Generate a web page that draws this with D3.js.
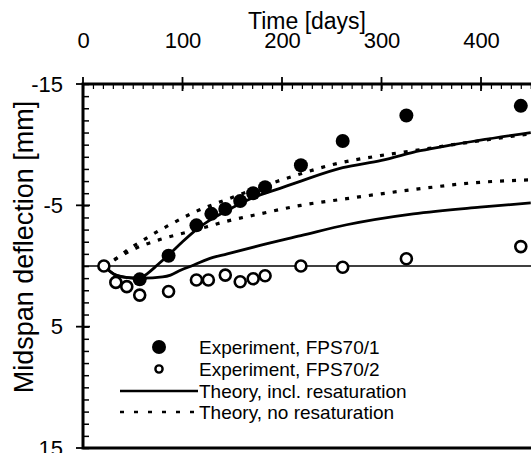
<!DOCTYPE html>
<html>
<head>
<meta charset="utf-8">
<script src="https://cdn.jsdelivr.net/npm/d3@7"></script>
<style>
  body { margin: 0; background: #fff; }
  svg { display: block; font-family: 'Liberation Sans', Arial, Helvetica, sans-serif; }
</style>
</head>
<body>
<div id="chart"></div>
<script>
// experiment, FPS70/1 (filled)
var expDays1 = [57, 86, 114, 129, 143, 158, 171, 183, 219, 261, 325, 440]
var expDefl1 = [1.1, -0.85, -3.35, -4.3, -4.7, -5.35, -6.0, -6.5, -8.3, -10.3, -12.4, -13.2]

// experiment, FPS70/2 (open)
var expDays2 = [21, 33, 44, 57, 86, 114, 126, 143, 158, 171, 183, 219, 261, 325, 440]
var expDefl2 = [0, 1.35, 1.7, 2.4, 2.1, 1.15, 1.15, 0.75, 1.3, 1.05, 0.8, 0, 0.1, -0.6, -1.6]

// theory incl. resaturation
var resDays1 = [21, 33, 45, 57, 65, 75, 86, 100, 114, 130, 150, 170, 198, 219, 261, 300, 339, 372, 450]
var resDefl1 = [0, 0.75, 0.95, 1.0, 0.6, -0.1, -0.9, -2.0, -3.0, -3.9, -4.8, -5.6, -6.4, -7.0, -8.1, -8.7, -9.5, -10.0, -11.0]
var resDays2 = [21, 33, 45, 60, 80, 88, 98, 112, 125, 145, 178, 219, 265, 332, 399, 450]
var resDefl2 = [0, 0.75, 0.95, 1.0, 0.9, 0.75, 0.35, -0.1, -0.55, -1.0, -1.7, -2.5, -3.4, -4.3, -4.85, -5.2]

// theory, no resaturation
var noResDays1 = [21, 30, 46, 58, 72, 85, 111, 145, 178, 219, 248, 299, 332, 372, 450]
var noResDefl1 = [0, -0.4, -1.4, -2.0, -2.7, -3.3, -4.4, -5.5, -6.5, -7.6, -8.3, -9.1, -9.5, -10.0, -10.9]
var noResDays2 = [21, 35, 54, 78, 110, 145, 178, 219, 265, 332, 399, 450]
var noResDefl2 = [0, -0.7, -1.5, -2.2, -2.9, -3.7, -4.3, -5.0, -5.55, -6.3, -6.9, -7.1]

var xMajor = [0, 100, 200, 300, 400]
var yMajor = [-15, -5, 5, 15]

var legendLabels = ['Experiment, FPS70/1', 'Experiment, FPS70/2', 'Theory, incl. resaturation', 'Theory, no resaturation']

var W = 531
var H = 453

var svg = d3.select('#chart').append('svg')
  .attr('width', W)
  .attr('height', H)

var x = d3.scaleLinear().domain([0, 450]).range([83, 530.75])
var y = d3.scaleLinear().domain([-15, 15]).range([84, 448])

function zip (a, b) {
  return a.map(function (d, i) { return [d, b[i]] })
}

// plain hyphen, not the unicode minus
function plain (d) { return String(d) }

// zero line
svg.append('line')
  .attr('x1', x(0)).attr('x2', W)
  .attr('y1', y(0)).attr('y2', y(0))
  .attr('stroke', '#000')
  .attr('stroke-width', 1.5)

// minor ticks, top (inside)
svg.append('g')
  .attr('transform', 'translate(0,' + y(-15) + ')')
  .call(d3.axisTop(x).tickValues(d3.range(0, 451, 10)).tickSize(-5).tickFormat(''))
  .call(function (g) { g.select('.domain').remove() })
  .selectAll('line').attr('stroke-width', 1.2)

// minor ticks, left (inside)
svg.append('g')
  .attr('transform', 'translate(' + x(0) + ',0)')
  .call(d3.axisLeft(y).tickValues(d3.range(-15, 16, 1)).tickSize(-6).tickFormat(''))
  .call(function (g) { g.select('.domain').remove() })
  .selectAll('line').attr('stroke-width', 1.5)

// major ticks cross the axis
svg.append('g').selectAll('line')
  .data(xMajor)
  .enter().append('line')
  .attr('x1', function (d) { return x(d) })
  .attr('x2', function (d) { return x(d) })
  .attr('y1', y(-15) - 7)
  .attr('y2', y(-15) + 7)
  .attr('stroke', '#000')
  .attr('stroke-width', 1.8)

svg.append('g').selectAll('line')
  .data(yMajor)
  .enter().append('line')
  .attr('x1', x(0) - 7)
  .attr('x2', x(0) + 7)
  .attr('y1', function (d) { return y(d) })
  .attr('y2', function (d) { return y(d) })
  .attr('stroke', '#000')
  .attr('stroke-width', 1.8)

// tick labels
svg.append('g')
  .attr('transform', 'translate(0,48)')
  .call(d3.axisTop(x).tickValues(xMajor).tickSize(0).tickPadding(0).tickFormat(plain))
  .call(function (g) { g.select('.domain').remove() })
  .selectAll('text')
  .attr('font-size', 22)
  .attr('font-family', null)
  .attr('fill', '#000')
  .attr('dy', 0)

svg.append('g')
  .attr('transform', 'translate(63,0)')
  .call(d3.axisLeft(y).tickValues(yMajor).tickSize(0).tickPadding(0).tickFormat(plain))
  .call(function (g) { g.select('.domain').remove() })
  .selectAll('text')
  .attr('font-size', 22)
  .attr('font-family', null)
  .attr('fill', '#000')

// frame
svg.append('path')
  .attr('d', 'M' + W + ',' + y(-15) + 'H' + x(0) + 'V' + y(15) + 'H' + W)
  .attr('fill', 'none')
  .attr('stroke', '#000')
  .attr('stroke-width', 3)

// titles
svg.append('text')
  .attr('x', 307)
  .attr('y', 29)
  .attr('text-anchor', 'middle')
  .attr('font-size', 23)
  .text('Time [days]')

svg.append('text')
  .attr('transform', 'translate(33,247) rotate(-90)')
  .attr('text-anchor', 'middle')
  .attr('font-size', 27)
  .text('Midspan deflection [mm]')

// theory curves
var line = d3.line()
  .x(function (d) { return x(d[0]) })
  .y(function (d) { return y(d[1]) })
  .curve(d3.curveMonotoneX)

var curves = [
  { pts: zip(resDays1, resDefl1), dash: null },
  { pts: zip(resDays2, resDefl2), dash: null },
  { pts: zip(noResDays1, noResDefl1), dash: '4,8' },
  { pts: zip(noResDays2, noResDefl2), dash: '4,8' }
]

svg.append('g').selectAll('path')
  .data(curves)
  .enter().append('path')
  .attr('d', function (d) { return line(d.pts) })
  .attr('fill', 'none')
  .attr('stroke', '#000')
  .attr('stroke-width', function (d) { return d.dash ? 3.2 : 2.8 })
  .attr('stroke-dasharray', function (d) { return d.dash })

// experiment points
svg.append('g').selectAll('circle')
  .data(zip(expDays2, expDefl2))
  .enter().append('circle')
  .attr('cx', function (d) { return x(d[0]) })
  .attr('cy', function (d) { return y(d[1]) })
  .attr('r', 5.5)
  .attr('fill', '#fff')
  .attr('stroke', '#000')
  .attr('stroke-width', 2.6)

svg.append('g').selectAll('circle')
  .data(zip(expDays1, expDefl1))
  .enter().append('circle')
  .attr('cx', function (d) { return x(d[0]) })
  .attr('cy', function (d) { return y(d[1]) })
  .attr('r', 7)
  .attr('fill', '#000')

// legend
var legendY = [347, 369, 391, 412]
var legend = svg.append('g')

legend.append('circle')
  .attr('cx', 159).attr('cy', legendY[0]).attr('r', 7)
  .attr('fill', '#000')
legend.append('circle')
  .attr('cx', 159).attr('cy', legendY[1]).attr('r', 3.6)
  .attr('fill', '#fff').attr('stroke', '#000').attr('stroke-width', 2.4)
legend.append('line')
  .attr('x1', 120).attr('x2', 198)
  .attr('y1', legendY[2]).attr('y2', legendY[2])
  .attr('stroke', '#000').attr('stroke-width', 2.6)
legend.append('line')
  .attr('x1', 120).attr('x2', 198)
  .attr('y1', legendY[3]).attr('y2', legendY[3])
  .attr('stroke', '#000').attr('stroke-width', 2.6)
  .attr('stroke-dasharray', '4,10')

legend.selectAll('text')
  .data(legendLabels)
  .enter().append('text')
  .attr('x', 199)
  .attr('y', function (d, i) { return legendY[i] })
  .attr('dy', '0.35em')
  .attr('font-size', 19)
  .text(function (d) { return d })
</script>
</body>
</html>
